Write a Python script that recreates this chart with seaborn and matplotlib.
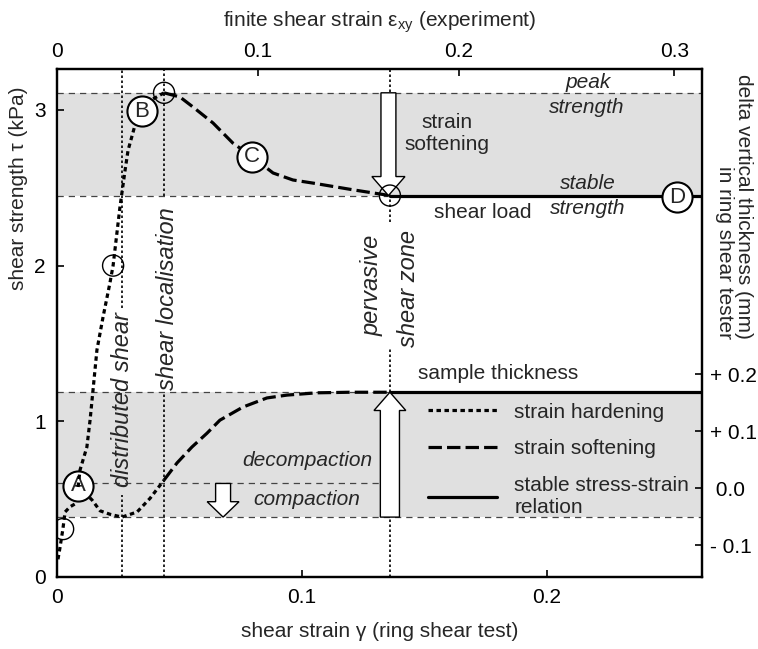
import numpy as np
import pandas as pd
import matplotlib
matplotlib.use("Agg")
import matplotlib.pyplot as plt
import matplotlib.patches as mpatches
from matplotlib.lines import Line2D
import seaborn as sns

# ---------------- data ----------------
# shear strength tau (kPa) vs shear strain gamma
gamma_hard = [0.0086, 0.0094, 0.0122, 0.0135, 0.0147, 0.0163, 0.0188, 0.0216,
              0.0229, 0.0257, 0.0278, 0.0290, 0.0318, 0.0347, 0.0380, 0.0437]
tau_hard = [0.578, 0.687, 0.835, 1.008, 1.20, 1.458, 1.67, 1.888,
            2.0, 2.376, 2.614, 2.74, 2.90, 2.99, 3.06, 3.11]
gamma_soft = [0.0437, 0.0502, 0.0555, 0.0637, 0.0718, 0.0796, 0.0882, 0.0963,
              0.1045, 0.1208, 0.1359]
tau_soft = [3.11, 3.083, 3.019, 2.916, 2.787, 2.70, 2.595, 2.55, 2.53, 2.487, 2.45]
gamma_stable = [0.1359, 0.2633]
tau_stable = [2.45, 2.45]

# delta vertical thickness (mm) vs shear strain gamma
gamma_th_hard = [0.0004, 0.0012, 0.0024, 0.0033, 0.0053, 0.0073, 0.0086, 0.0143,
                 0.0176, 0.0216, 0.0265, 0.0327, 0.0380, 0.0437]
dth_hard = [-0.125, -0.105, -0.072, -0.042, -0.033, -0.028, 0.004, -0.021,
            -0.040, -0.046, -0.051, -0.042, -0.018, 0.014]
gamma_th_soft = [0.0437, 0.0490, 0.0551, 0.0612, 0.0665, 0.0759, 0.0857, 0.0939,
                 0.1061, 0.1196, 0.1359]
dth_soft = [0.014, 0.044, 0.072, 0.096, 0.119, 0.142, 0.158, 0.163, 0.167, 0.168, 0.168]
gamma_th_stable = [0.1359, 0.2633]
dth_stable = [0.168, 0.168]

# reference levels
tau_peak = 3.11
tau_stable_level = 2.45
dth_top = 0.168
dth_mid = 0.008
dth_low = -0.051

# stage boundaries (gamma)
gamma_stages = [0.0265, 0.0437, 0.1359]

# labelled points
tau_points = pd.DataFrame({"g": [0.0347, 0.0796, 0.253], "t": [2.99, 2.70, 2.44],
                           "lab": ["B", "C", "D"]})
tau_small = pd.DataFrame({"g": [0.0229, 0.0437, 0.1359], "t": [2.0, 3.11, 2.45]})
th_points = pd.DataFrame({"g": [0.0086], "t": [0.004], "lab": ["A"]})
th_small = pd.DataFrame({"g": [0.0025], "t": [-0.072]})

# tick labels
x_ticks = [0, 0.1, 0.2]
x_ticklabels = ["0", "0.1", "0.2"]
y_ticks = [0, 1, 2, 3]
y_ticklabels = ["0", "1", "2", "3"]
r_ticks = [0.2, 0.1, 0.0, -0.1]
r_ticklabels = ["+ 0.2", "+ 0.1", " 0.0", "- 0.1"]
eps_ticklabels = ["0", "0.1", "0.2", "0.3"]
eps_tick_gamma = [0.0, 0.082, 0.164, 0.252]

# ---------------- style ----------------
sns.set_theme(style="white")
plt.rcParams["font.family"] = ["Liberation Sans", "DejaVu Sans"]
plt.rcParams["mathtext.fontset"] = "custom"
plt.rcParams["mathtext.rm"] = "Liberation Sans"
plt.rcParams["mathtext.it"] = "Liberation Sans:italic"
FS = 15
FSV = 17
GREY = "#e0e0e0"
LW = 2.3
DOT = (0, (1.4, 1.1))
DASH = (0, (4.2, 1.6))
XMAX = 0.2633

fig = plt.figure(figsize=(7.58, 6.49), dpi=100)
ax = fig.add_axes([0.0752, 0.111, 0.8509, 0.7827])
ax2 = ax.twinx()
ax.set_zorder(ax2.get_zorder() + 1)
ax.patch.set_visible(False)

ax.set_xlim(0, XMAX)
ax.set_ylim(0, 3.263)
ax2.set_ylim(-0.156, 0.735)

# ---------- lower layer (ax2): thickness ----------
ax2.axhspan(dth_low, dth_top, color=GREY, lw=0, zorder=0)
for lvl in [dth_top, dth_low]:
    ax2.axhline(lvl, color="#444444", lw=0.9, ls=(0, (5, 4)), zorder=1)
ax2.axhline(dth_mid, xmax=gamma_stages[2] / XMAX, color="#444444", lw=0.9,
            ls=(0, (5, 4)), zorder=1)
sns.lineplot(x=gamma_th_hard, y=dth_hard, ax=ax2, color="black", lw=LW,
             linestyle=DOT, sort=False, estimator=None, zorder=3)
sns.lineplot(x=gamma_th_soft, y=dth_soft, ax=ax2, color="black", lw=LW,
             linestyle=DASH, sort=False, estimator=None, zorder=3)
sns.lineplot(x=gamma_th_stable, y=dth_stable, ax=ax2, color="black", lw=LW,
             linestyle="-", sort=False, estimator=None, zorder=3)
sns.scatterplot(data=th_small, x="g", y="t", ax=ax2, s=230, facecolor="none",
                edgecolor="black", linewidth=1.0, zorder=5)
sns.scatterplot(data=th_points, x="g", y="t", ax=ax2, s=470, color="white",
                edgecolor="black", linewidth=1.5, zorder=5)
for _, row in th_points.iterrows():
    ax2.text(row.g, row.t, row.lab, ha="center", va="center", fontsize=16, zorder=6)

# ---------- upper layer (ax): strength ----------
ax.axhspan(tau_stable_level, tau_peak, color=GREY, lw=0, zorder=0)
for lvl in [tau_peak, tau_stable_level]:
    ax.axhline(lvl, color="#444444", lw=0.9, ls=(0, (5, 4)), zorder=1)

# stage boundary lines (segments leave room for the rotated labels)
vseg = {0: [(0, 0.527), (1.73, 3.263)],
        1: [(0, 1.19), (2.45, 3.263)],
        2: [(0, 1.47), (2.28, 3.263)]}
for i, g in enumerate(gamma_stages):
    for lo, hi in vseg[i]:
        ax.plot([g, g], [lo, hi], color="black", lw=1.2, ls=(0, (1.5, 1.5)), zorder=2)

sns.lineplot(x=gamma_hard, y=tau_hard, ax=ax, color="black", lw=LW,
             linestyle=DOT, sort=False, estimator=None, zorder=3)
sns.lineplot(x=gamma_soft, y=tau_soft, ax=ax, color="black", lw=LW,
             linestyle=DASH, sort=False, estimator=None, zorder=3)
sns.lineplot(x=gamma_stable, y=tau_stable, ax=ax, color="black", lw=LW,
             linestyle="-", sort=False, estimator=None, zorder=3)

# arrows
arr_soft = mpatches.FancyArrow(0.1353, tau_peak, 0, tau_stable_level - tau_peak,
                               width=0.0061, head_width=0.0135, head_length=0.122,
                               length_includes_head=True, fc="white", ec="black",
                               lw=1.0, zorder=4)
ax.add_patch(arr_soft)
arr_up = mpatches.FancyArrow(0.1359, dth_low, 0, dth_top - dth_low,
                             width=0.0078, head_width=0.013, head_length=0.032,
                             length_includes_head=True, fc="white", ec="black",
                             lw=1.0, zorder=4, transform=ax2.transData)
ax.add_patch(arr_up)
arr_down = mpatches.FancyArrow(0.0678, dth_mid, 0, dth_low - dth_mid,
                               width=0.0061, head_width=0.013, head_length=0.027,
                               length_includes_head=True, fc="white", ec="black",
                               lw=1.0, zorder=4, transform=ax2.transData)
ax.add_patch(arr_down)

sns.scatterplot(data=tau_small, x="g", y="t", ax=ax, s=230, facecolor="none",
                edgecolor="black", linewidth=1.0, zorder=5)
sns.scatterplot(data=tau_points, x="g", y="t", ax=ax, s=470, color="white",
                edgecolor="black", linewidth=1.5, zorder=5)
for _, row in tau_points.iterrows():
    ax.text(row.g, row.t, row.lab, ha="center", va="center", fontsize=16, zorder=6)

# annotations
ax.text(0.2167, 3.173, "peak", style="italic", fontsize=FS, ha="center", va="center")
ax.text(0.2163, 3.015, "strength", style="italic", fontsize=FS, ha="center", va="center")
ax.text(0.1592, 2.92, "strain", fontsize=FS, ha="center", va="center")
ax.text(0.1592, 2.78, "softening", fontsize=FS, ha="center", va="center")
ax.text(0.2167, 2.525, "stable", style="italic", fontsize=FS, ha="center", va="center")
ax.text(0.2167, 2.37, "strength", style="italic", fontsize=FS, ha="center", va="center")
ax.text(0.1739, 2.34, "shear load", fontsize=FS, ha="center", va="center")
ax.text(0.180, 1.31, "sample thickness", fontsize=FS, ha="center", va="center")
ax.text(0.102, 0.751, "decompaction", style="italic", fontsize=FS, ha="center", va="center")
ax.text(0.102, 0.495, "compaction", style="italic", fontsize=FS, ha="center", va="center")
ax.text(0.0266, 1.14, "distributed shear", style="italic", fontsize=FSV,
        rotation=90, ha="center", va="center")
ax.text(0.0450, 1.79, "shear localisation", style="italic", fontsize=FSV,
        rotation=90, ha="center", va="center")
ax.text(0.1288, 1.875, "pervasive", style="italic", fontsize=FSV,
        rotation=90, ha="center", va="center")
ax.text(0.1433, 1.85, "shear zone", style="italic", fontsize=FSV,
        rotation=90, ha="center", va="center")

# legend
handles = [Line2D([], [], color="black", lw=LW, linestyle=DOT),
           Line2D([], [], color="black", lw=LW, linestyle=DASH),
           Line2D([], [], color="black", lw=LW, linestyle="-")]
labels = ["strain hardening", "strain softening", "stable stress-strain\nrelation"]
ax.legend(handles, labels, loc="upper left", bbox_to_anchor=(0.575, 0.343),
          frameon=False, fontsize=FS, borderpad=0, borderaxespad=0,
          handlelength=3.3, handletextpad=0.85, labelspacing=0.85)

# axes, ticks, labels
ax.set_xticks(x_ticks, x_ticklabels)
ax.set_yticks(y_ticks, y_ticklabels)
ax2.set_yticks(r_ticks, r_ticklabels)
ax.tick_params(axis="both", direction="in", length=5, width=1.2, labelsize=FS,
               colors="black", pad=8, bottom=True, left=True)
ax2.tick_params(axis="y", direction="in", length=5, width=1.2, labelsize=FS,
                colors="black", pad=6, right=True)
for a in (ax, ax2):
    for sp in a.spines.values():
        sp.set_linewidth(1.6)
        sp.set_color("black")

secax = ax.secondary_xaxis("top")
secax.set_xticks(eps_tick_gamma, eps_ticklabels)
secax.tick_params(direction="in", length=5, width=1.2, labelsize=FS, pad=6,
                  colors="black")
secax.set_xlabel("finite shear strain ε$_{\\mathrm{xy}}$ (experiment)",
                 fontsize=FS, labelpad=11)

ax.set_xlabel("shear strain γ (ring shear test)", fontsize=FS, labelpad=11)
ax.set_ylabel("shear strength τ (kPa)", fontsize=FS)
ax.yaxis.set_label_coords(-0.045, 0.765)
ax2.set_ylabel("delta vertical thickness (mm)\nin ring shear tester", fontsize=FS,
               rotation=270, va="bottom", ha="center", multialignment="right",
               linespacing=1.0)
ax2.yaxis.set_label_coords(1.02, 0.73)

fig.savefig("out.png", dpi=100)
